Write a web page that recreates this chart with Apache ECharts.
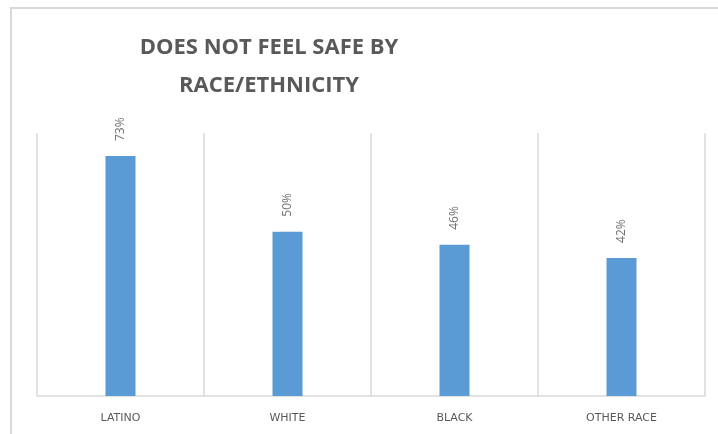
<!DOCTYPE html>
<html lang="en">
<head>
    <meta charset="UTF-8">
    <title>Does not feel safe by race/ethnicity</title>
    <script src="https://cdn.jsdelivr.net/npm/echarts@6/dist/echarts.min.js"></script>
    <style>
        html, body {
            margin: 0;
            padding: 0;
            background: #fff;
        }
        #chart {
            width: 718px;
            height: 434px;
        }
    </style>
</head>
<body>
<div id="chart"></div>
<script>
    var categories = ['LATINO', 'WHITE', 'BLACK', 'OTHER RACE'];
    var percentValues = [73, 50, 46, 42];

    var chart = echarts.init(document.getElementById('chart'));
    var options = {
        animation: false,
        title: {
            text: 'DOES NOT FEEL SAFE BY\nRACE/ETHNICITY',
            left: 269,
            top: 29,
            padding: 0,
            textAlign: 'center',
            textStyle: {
                color: '#595959',
                fontFamily: 'Open Sans',
                fontWeight: 'bold',
                fontSize: 22,
                lineHeight: 38
            }
        },
        graphic: [
            {
                // chart frame, cut by the right and bottom edge
                type: 'rect',
                silent: true,
                shape: {x: 11, y: 8, width: 730, height: 450},
                style: {fill: 'none', stroke: '#d9d9d9', lineWidth: 2}
            }
        ],
        grid: {
            left: 37,
            right: 13,
            top: 133,
            bottom: 38
        },
        xAxis: {
            type: 'category',
            data: categories,
            axisLine: {
                lineStyle: {color: '#d9d9d9', width: 1.5}
            },
            axisTick: {show: false},
            splitLine: {
                show: true,
                interval: 0,
                lineStyle: {color: '#d9d9d9', width: 1.5}
            },
            axisLabel: {
                color: '#595959',
                fontFamily: 'DejaVu Sans',
                fontSize: 11,
                margin: 17
            }
        },
        yAxis: {
            type: 'value',
            min: 0,
            max: 80,
            show: false,
            splitLine: {show: false}
        },
        series: [
            {
                type: 'bar',
                data: percentValues,
                barWidth: 30,
                itemStyle: {color: '#5b9bd5'},
                label: {
                    show: true,
                    position: 'top',
                    rotate: 90,
                    align: 'left',
                    verticalAlign: 'middle',
                    distance: 15,
                    formatter: '{c}%',
                    color: '#6f6f6f',
                    fontFamily: 'Open Sans',
                    fontSize: 12
                }
            }
        ]
    };
    chart.setOption(options);
</script>
</body>
</html>
